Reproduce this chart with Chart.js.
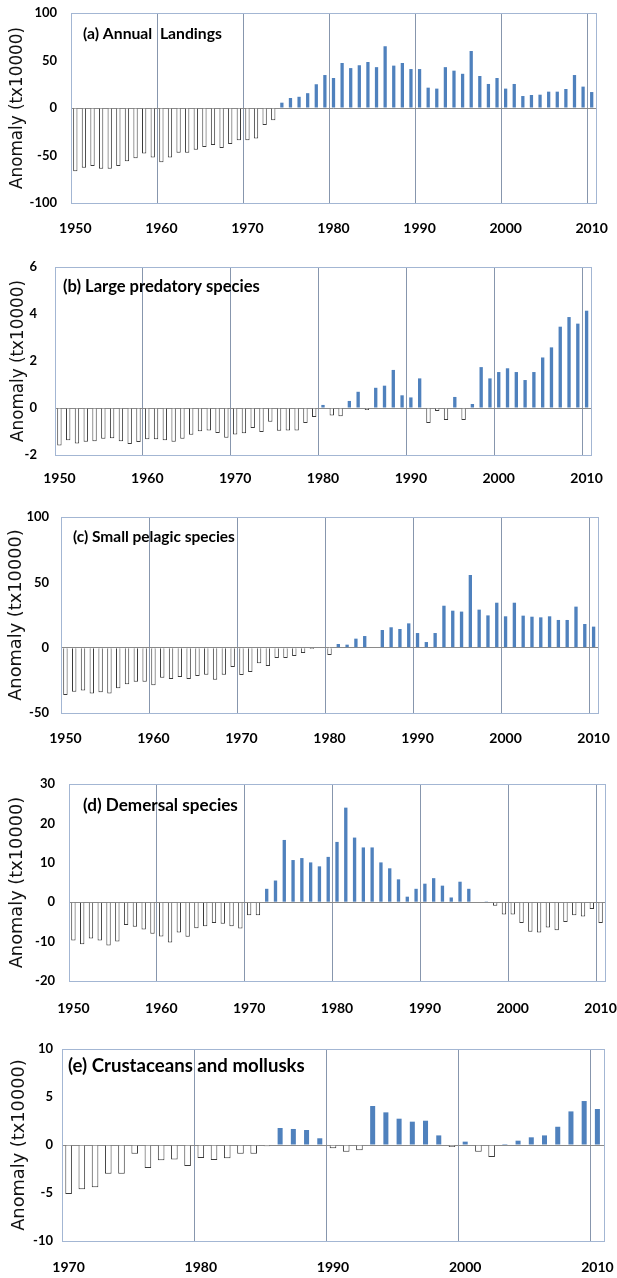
<!DOCTYPE html>
<html><head><meta charset="utf-8">
<script src="https://cdn.jsdelivr.net/npm/chart.js@4.4.1/dist/chart.umd.min.js"></script>
<style>
html,body{margin:0;padding:0;background:#fff;width:617px;height:1278px;overflow:hidden;position:relative;}
canvas{position:absolute;left:0;}
</style></head><body>
<canvas id="ca" width="617" height="245" style="top:0px"></canvas>
<canvas id="cb" width="617" height="245" style="top:250px"></canvas>
<canvas id="cc" width="617" height="250" style="top:500px"></canvas>
<canvas id="cd" width="617" height="265" style="top:755px"></canvas>
<canvas id="ce" width="617" height="258" style="top:1020px"></canvas>
<script>
// ---------- DATA ----------
const years1950 = [1950,1951,1952,1953,1954,1955,1956,1957,1958,1959,
  1960,1961,1962,1963,1964,1965,1966,1967,1968,1969,
  1970,1971,1972,1973,1974,1975,1976,1977,1978,1979,
  1980,1981,1982,1983,1984,1985,1986,1987,1988,1989,
  1990,1991,1992,1993,1994,1995,1996,1997,1998,1999,
  2000,2001,2002,2003,2004,2005,2006,2007,2008,2009,2010];
const years1970 = [1970,1971,1972,1973,1974,1975,1976,1977,1978,1979,
  1980,1981,1982,1983,1984,1985,1986,1987,1988,1989,
  1990,1991,1992,1993,1994,1995,1996,1997,1998,1999,
  2000,2001,2002,2003,2004,2005,2006,2007,2008,2009,2010];

const annualLandings = [-66.7,-63,-61,-64,-64,-61,-56,-53,-48,-52,
  -57,-52,-47,-47,-44,-41,-39,-42,-38,-34,
  -34,-32,-18,-13,5.6,10.5,11.8,15.6,25,34.7,
  31.6,47.4,42,45,48.4,43,65,44.6,47.4,41,
  41,21.4,20.4,43,39.3,36,60,33.7,25.3,31.6,
  20.4,25.3,12.6,13.7,14,17.2,17.2,20,34.7,22.5,16.8];
const largePredatory = [-1.6,-1.37,-1.51,-1.44,-1.41,-1.31,-1.29,-1.41,-1.53,-1.45,
  -1.33,-1.33,-1.37,-1.44,-1.31,-1.14,-0.99,-0.96,-1.06,-1.27,
  -1.13,-1.07,-0.85,-1.02,-0.59,-0.97,-0.96,-0.96,-0.64,-0.38,
  0.13,-0.32,-0.35,0.3,0.69,-0.08,0.86,0.95,1.62,0.54,
  0.45,1.26,-0.64,-0.13,-0.51,0.47,-0.51,0.17,1.74,1.26,
  1.53,1.69,1.53,1.19,1.53,2.15,2.58,3.46,3.87,3.59,4.14];
const smallPelagic = [-36.2,-33.7,-32.7,-35,-34.2,-35,-31.1,-28,-26,-26,
  -28.8,-23,-24,-22.4,-24,-21.7,-20.7,-24.5,-20.7,-14.8,
  -21,-18.6,-12,-14,-7.9,-7.9,-6.4,-4.1,-1,0,
  -5.6,2.8,2.3,6.9,8.9,0,13.5,15.6,14.3,18.6,
  11.2,4.3,11.2,32.1,28.3,27.6,55.6,29.1,24.7,34.4,
  24,34.4,24.5,23.7,23.2,24,21.2,21.2,31.4,18.1,16.1];
const demersal = [-9.7,-10.7,-9.2,-9.7,-11,-10,-5.8,-6.2,-6.9,-8,
  -8.7,-10.2,-7.7,-8.8,-6.6,-6.1,-5.3,-5.5,-6.1,-6.7,
  -3.3,-3.3,3.4,5.5,15.8,10.7,11.2,10.1,9.1,11.5,
  15.3,24,16.4,13.9,13.9,10.1,8.6,5.8,1.4,3.4,
  4.7,6.1,4.2,1.2,5.2,3.4,0,0.2,-0.9,-3.1,
  -3.1,-5.3,-7.5,-7.7,-6.4,-7.1,-5,-3.3,-3.6,-1.7,-5.3];
const crustMollusk = [-5.1,-4.6,-4.4,-3.0,-3.0,-0.9,-2.4,-1.6,-1.5,-2.2,
  -1.35,-1.56,-1.39,-0.9,-0.9,-0.14,1.77,1.67,1.56,0.7,
  -0.35,-0.7,-0.55,4.06,3.4,2.74,2.43,2.53,1.0,-0.2,
  0.35,-0.7,-1.25,0.1,0.45,0.8,1.0,1.9,3.5,4.58,3.75];

const xLabels1950 = [1950,1960,1970,1980,1990,2000,2010];
const xLabels1970 = [1970,1980,1990,2000,2010];
const yTicksA = [-100,-50,0,50,100];
const yTicksB = [-2,0,2,4,6];
const yTicksC = [-50,0,50,100];
const yTicksD = [-20,-10,0,10,20,30];
const yTicksE = [-10,-5,0,5,10];
const panelTitles = ['(a) Annual  Landings','(b) Large predatory species','(c) Small pelagic species','(d) Demersal species','(e) Crustaceans and mollusks'];
const axisTitle = 'Anomaly (tx10000)';

// ---------- LAYOUT / STYLE ----------
const W = 617;
const panels = [
  {id:'ca', cats:years1950, vals:annualLandings, xl:xLabels1950, yt:yTicksA, title:panelTitles[0],
   top:0, h:245, plot:{l:71,r:596,t:13,b:203}, yGap:14, xGap:16.6, tCenter:18, lab:{dx:12,dy:21,w:139}, tSize:16.8},
  {id:'cb', cats:years1950, vals:largePredatory, xl:xLabels1950, yt:yTicksB, title:panelTitles[1],
   top:250, h:245, plot:{l:55,r:591,t:267,b:455}, yGap:18, xGap:14.6, tCenter:19, lab:{dx:8,dy:20,w:197}, tSize:16.8},
  {id:'cc', cats:years1950, vals:smallPelagic, xl:xLabels1950, yt:yTicksC, title:panelTitles[2],
   top:500, h:250, plot:{l:61,r:598,t:517,b:713}, yGap:12, xGap:16.6, tCenter:16, lab:{dx:12,dy:20,w:162}, tSize:17.8},
  {id:'cd', cats:years1950, vals:demersal, xl:xLabels1950, yt:yTicksD, title:panelTitles[3],
   top:755, h:265, plot:{l:69,r:605,t:784,b:981}, yGap:14, xGap:18.6, tCenter:17, lab:{dx:14,dy:21,w:155}, tSize:17.8},
  {id:'ce', cats:years1970, vals:crustMollusk, xl:xLabels1970, yt:yTicksE, title:panelTitles[4],
   top:1020, h:258, plot:{l:62,r:604,t:1049,b:1241}, yGap:9, xGap:17.6, tCenter:19, lab:{dx:6,dy:17,w:237}, tSize:17.8}
];

const POS = '#4F81BD';
const NEG_BORDER = '#3a3a3a';
const GRID = '#8796AD';
const FRAME = '#A3B6D3';
const ZERO = '#8a8a8a';

const framePlugin = {
  id: 'frame',
  afterDraw(chart) {
    const p = chart.options.plugins.frame;
    const a = chart.chartArea;
    const ctx = chart.ctx;
    ctx.save();
    ctx.strokeStyle = FRAME;
    ctx.lineWidth = 1;
    ctx.strokeRect(Math.round(a.left)+0.5, Math.round(a.top)+0.5, Math.round(a.right-a.left), Math.round(a.bottom-a.top));
    // panel label
    ctx.font = 'bold 16px Lato';
    const mw = ctx.measureText(p.text).width;
    const size = 16 * p.w / mw;
    ctx.font = 'bold ' + size.toFixed(2) + 'px Lato';
    ctx.fillStyle = '#000';
    ctx.textBaseline = 'middle';
    ctx.textAlign = 'left';
    ctx.fillText(p.text, a.left + p.dx, a.top + p.dy);
    ctx.restore();
  }
};

panels.forEach(pn => {
  const pos = pn.vals.map(v => v > 0 ? v : null);
  const neg = pn.vals.map(v => v < 0 ? v : null);
  const xh = pn.h - (pn.plot.b - pn.top);
  new Chart(document.getElementById(pn.id), {
    type: 'bar',
    data: {
      labels: pn.cats,
      datasets: [
        {data: pos, backgroundColor: POS, borderWidth: 0, barPercentage: 0.38, categoryPercentage: 1, grouped: false},
        {data: neg, backgroundColor: '#ffffff', borderColor: NEG_BORDER, borderWidth: 1, barPercentage: 0.5, categoryPercentage: 1, grouped: false}
      ]
    },
    options: {
      responsive: false,
      devicePixelRatio: 1,
      animation: false,
      events: [],
      layout: {padding: {top: pn.plot.t - pn.top, right: W - pn.plot.r, left: 0, bottom: 0}},
      plugins: {
        legend: {display: false},
        tooltip: {enabled: false},
        frame: {text: pn.title, dx: pn.lab.dx, dy: pn.lab.dy, w: pn.lab.w}
      },
      scales: {
        x: {
          type: 'category',
          offset: true,
          border: {display: false},
          grid: {
            offset: true,
            drawTicks: true,
            tickLength: pn.xGap,
            tickColor: 'rgba(0,0,0,0)',
            lineWidth: 1,
            color: (c) => {
              const y = pn.cats[c.index];
              return (c.index > 0 && y !== undefined && pn.xl.includes(y)) ? GRID : 'rgba(0,0,0,0)';
            }
          },
          ticks: {
            autoSkip: false, maxRotation: 0, minRotation: 0, padding: 0,
            color: '#000',
            font: {family: 'Lato', weight: 'bold', size: 14},
            callback: (v, i) => pn.xl.includes(pn.cats[i]) ? String(pn.cats[i]) : ''
          },
          afterFit: (s) => { s.height = xh; }
        },
        y: {
          min: pn.yt[0], max: pn.yt[pn.yt.length - 1],
          border: {display: false},
          afterBuildTicks: (s) => { s.ticks = pn.yt.map(v => ({value: v})); },
          grid: {
            drawTicks: true,
            tickLength: pn.yGap,
            tickColor: 'rgba(0,0,0,0)',
            color: (c) => (c.tick && c.tick.value === 0) ? ZERO : 'rgba(0,0,0,0)'
          },
          ticks: {
            padding: 0,
            color: '#000',
            font: {family: 'Lato', weight: 'bold', size: 13},
            callback: (v) => String(v)
          },
          title: {
            display: true,
            text: axisTitle,
            color: '#111',
            font: {family: 'DejaVu Sans', size: pn.tSize, weight: 'normal'},
            padding: {top: pn.tCenter - pn.tSize * 0.6, bottom: 0}
          },
          afterFit: (s) => { s.width = pn.plot.l; }
        }
      }
    },
    plugins: [framePlugin]
  });
});
</script>
</body></html>
